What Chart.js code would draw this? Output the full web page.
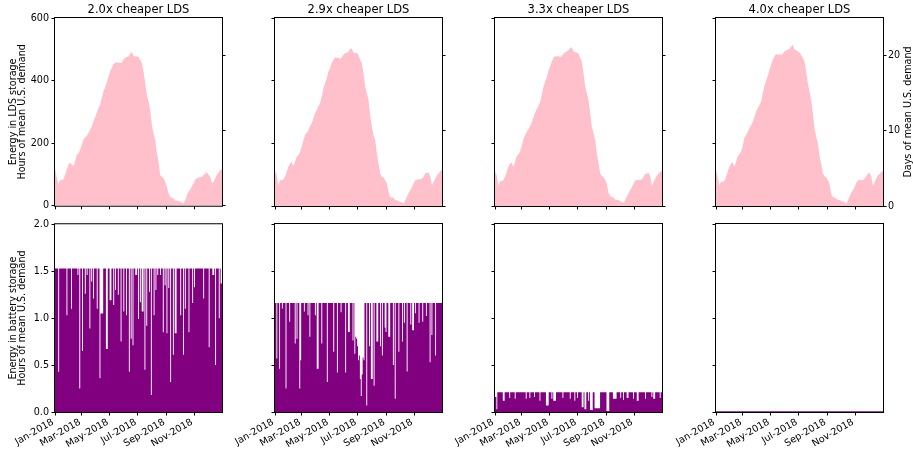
<!DOCTYPE html>
<html>
<head>
<meta charset="utf-8">
<script src="https://cdn.jsdelivr.net/npm/chart.js@4"></script>
<style>
  html, body { margin: 0; padding: 0; background: #fff; }
  #fig { position: relative; width: 913px; height: 455px; overflow: hidden; background: #fff; }
  #fig canvas { position: absolute; }
</style>
</head>
<body>
<div id="fig"></div>
<script>
// Scenario titles, one per column
const scenarios = ['2.0x cheaper LDS', '2.9x cheaper LDS', '3.3x cheaper LDS', '4.0x cheaper LDS'];

// Shared x axis: day of year 2018, ticked every second month
const monthTickDays = [0, 59, 120, 181, 243, 304];
const monthTickLabels = ['Jan-2018', 'Mar-2018', 'May-2018', 'Jul-2018', 'Sep-2018', 'Nov-2018'];

// Axis ticks
const hourTicks = [0, 200, 400, 600];
const dayTicks = [0, 10, 20];
const batteryTicks = [0, 0.5, 1.0, 1.5, 2.0];

// Energy held in long-duration storage (hours of mean U.S. demand), samples spread evenly over the year
const ldsHours20 = [
  120, 93, 69, 82, 82, 84, 98, 114, 130, 138,
  132, 127, 141, 162, 168, 178, 194, 210, 219, 223,
  232, 242, 253, 269, 283, 296, 312, 322, 344, 365,
  379, 394, 413, 429, 440, 453, 456, 459, 456, 458,
  456, 467, 472, 475, 477, 486, 491, 479, 477, 477,
  475, 467, 456, 429, 392, 354, 333, 306, 258, 232,
  210, 168, 141, 98, 93, 88, 77, 61, 40, 27,
  26, 23, 16, 16, 15, 13, 10, 7, 18, 34,
  45, 52, 63, 72, 84, 88, 90, 91, 93, 98,
  104, 106, 98, 93, 72, 77, 88, 101, 106, 114,
  116
];
const ldsHours29 = [
  114, 98, 66, 82, 82, 84, 93, 109, 125, 136,
  141, 127, 141, 157, 162, 173, 189, 210, 226, 234,
  242, 255, 264, 280, 296, 306, 319, 328, 349, 376,
  392, 408, 429, 440, 456, 467, 475, 472, 474, 469,
  475, 483, 488, 488, 493, 501, 503, 488, 488, 488,
  483, 467, 456, 424, 381, 360, 338, 290, 253, 226,
  210, 168, 136, 104, 93, 91, 82, 72, 45, 29,
  27, 27, 18, 18, 16, 13, 13, 7, 18, 29,
  42, 50, 61, 72, 82, 84, 85, 85, 88, 93,
  104, 106, 106, 93, 66, 77, 88, 98, 104, 112,
  114
];
const ldsHours33 = [
  109, 98, 66, 79, 79, 82, 93, 109, 125, 136,
  139, 125, 141, 159, 165, 173, 191, 215, 226, 237,
  245, 255, 266, 283, 298, 309, 319, 330, 354, 379,
  397, 411, 432, 445, 461, 472, 479, 477, 479, 475,
  479, 486, 491, 493, 497, 504, 507, 493, 491, 490,
  486, 472, 461, 424, 381, 360, 338, 296, 253, 232,
  210, 168, 136, 104, 95, 93, 82, 70, 42, 31,
  29, 27, 20, 20, 18, 15, 13, 10, 20, 31,
  42, 50, 61, 72, 82, 82, 84, 84, 85, 93,
  102, 104, 106, 93, 64, 77, 88, 98, 104, 109,
  112
];
const ldsHours40 = [
  114, 93, 66, 77, 77, 80, 93, 109, 125, 136,
  139, 125, 141, 159, 165, 173, 191, 219, 226, 237,
  248, 258, 269, 285, 301, 312, 322, 333, 360, 383,
  400, 415, 435, 451, 467, 477, 485, 482, 485, 482,
  486, 493, 497, 499, 501, 508, 515, 499, 497, 493,
  490, 482, 472, 461, 429, 392, 365, 338, 296, 248,
  221, 200, 157, 136, 104, 95, 91, 82, 70, 39,
  29, 27, 23, 20, 18, 16, 14, 13, 7, 18,
  31, 42, 50, 61, 74, 82, 82, 84, 82, 88,
  95, 104, 106, 93, 64, 77, 88, 98, 102, 109,
  112
];

// Energy held in batteries (hours of mean U.S. demand), about every two days
const batteryHours20 = [
  1.53, 1.53, 1.53, 1.53, 0.43, 1.53, 1.53, 1.53, 1.53, 1.53,
  1.53, 1.53, 1.53, 1.03, 1.53, 1.53, 1.53, 1.53, 1.10, 1.53,
  1.53, 1.53, 1.53, 1.53, 1.53, 1.46, 1.53, 0.25, 1.53, 1.53,
  0.65, 1.53, 1.53, 1.26, 1.53, 1.46, 1.53, 1.53, 0.89, 1.53,
  1.39, 1.53, 1.21, 1.53, 1.53, 1.53, 1.10, 1.53, 1.53, 0.36,
  1.05, 1.05, 1.05, 1.53, 1.53, 1.53, 0.67, 0.67, 1.53, 1.53,
  1.19, 1.19, 1.53, 1.53, 1.14, 1.53, 1.30, 1.53, 1.53, 1.25,
  1.53, 1.53, 0.75, 1.53, 1.53, 1.07, 1.53, 1.53, 1.03, 1.53,
  1.53, 0.43, 1.53, 0.78, 1.53, 0.71, 1.53, 1.53, 1.46, 1.46,
  1.53, 0.99, 1.53, 1.17, 1.53, 1.07, 1.07, 1.53, 0.45, 1.53,
  0.92, 1.53, 1.53, 1.28, 1.53, 0.18, 1.53, 1.53, 1.03, 1.53,
  1.30, 1.53, 1.46, 1.53, 1.53, 1.46, 1.53, 1.53, 0.85, 1.53,
  1.35, 1.53, 0.84, 1.53, 1.32, 1.53, 0.32, 1.53, 1.53, 0.61,
  1.53, 0.84, 0.84, 1.53, 1.53, 1.53, 1.53, 1.03, 1.53, 1.53,
  0.61, 1.53, 1.10, 1.53, 1.53, 1.53, 0.85, 1.53, 1.53, 1.53,
  1.16, 1.53, 1.33, 1.53, 1.53, 1.53, 1.53, 1.53, 1.53, 1.53,
  1.53, 1.53, 1.21, 1.53, 1.53, 1.53, 1.53, 1.53, 0.69, 1.53,
  1.53, 1.53, 1.46, 1.46, 1.53, 0.50, 1.53, 1.53, 1.53, 1.00,
  1.53, 1.37, 1.37
];
const batteryHours29 = [
  1.16, 1.16, 0.57, 1.16, 1.16, 0.46, 1.16, 1.16, 1.10, 1.16,
  1.16, 1.16, 0.25, 1.16, 1.16, 1.16, 0.96, 1.16, 1.16, 1.16,
  1.16, 1.16, 0.73, 1.16, 0.78, 1.16, 1.16, 0.25, 0.55, 1.16,
  1.16, 1.16, 1.07, 1.16, 1.16, 1.16, 1.03, 1.16, 0.80, 1.16,
  1.16, 1.16, 1.16, 1.16, 1.03, 1.16, 0.46, 0.46, 1.16, 1.16,
  1.16, 0.73, 1.16, 1.16, 1.16, 1.16, 1.16, 0.32, 1.16, 1.16,
  1.16, 1.16, 1.16, 1.16, 0.64, 1.16, 1.16, 1.16, 0.42, 1.16,
  1.16, 1.16, 1.06, 1.16, 1.16, 1.16, 1.16, 0.42, 1.16, 1.16,
  0.85, 0.85, 1.16, 1.16, 1.16, 0.76, 1.16, 0.62, 0.80, 0.78,
  0.70, 0.55, 0.60, 0.35, 0.17, 0.40, 0.58, 0.55, 1.16, 1.16,
  0.07, 1.16, 1.16, 0.70, 1.16, 0.35, 0.35, 1.16, 0.28, 1.16,
  1.16, 0.75, 0.75, 1.16, 1.16, 0.70, 1.16, 0.60, 1.16, 1.16,
  0.90, 0.85, 1.16, 1.16, 0.80, 0.80, 1.16, 1.16, 1.16, 0.50,
  1.16, 0.14, 1.16, 1.16, 1.16, 0.64, 1.16, 1.16, 1.16, 0.75,
  1.16, 0.95, 1.16, 1.16, 0.43, 1.16, 1.16, 1.16, 0.93, 1.16,
  0.87, 0.87, 1.16, 1.05, 1.16, 1.16, 1.16, 0.95, 1.16, 1.16,
  1.16, 0.96, 1.16, 1.16, 1.16, 1.02, 1.16, 1.16, 1.16, 0.53,
  1.16, 0.82, 1.16, 1.16, 1.16, 0.60, 1.16, 1.16, 1.16, 1.16,
  1.16, 1.16, 1.16
];
const batteryHours33 = [
  0.16, 0.16, 0.03, 0.21, 0.21, 0.21, 0.21, 0.21, 0.21, 0.12,
  0.12, 0.21, 0.21, 0.21, 0.21, 0.21, 0.15, 0.21, 0.21, 0.21,
  0.21, 0.21, 0.14, 0.21, 0.21, 0.21, 0.21, 0.21, 0.21, 0.21,
  0.21, 0.21, 0.21, 0.21, 0.14, 0.21, 0.21, 0.21, 0.15, 0.21,
  0.21, 0.21, 0.21, 0.16, 0.21, 0.21, 0.21, 0.21, 0.21, 0.12,
  0.21, 0.21, 0.21, 0.21, 0.21, 0.21, 0.07, 0.07, 0.07, 0.21,
  0.21, 0.21, 0.14, 0.21, 0.12, 0.12, 0.12, 0.21, 0.21, 0.21,
  0.21, 0.21, 0.21, 0.21, 0.15, 0.21, 0.21, 0.21, 0.21, 0.21,
  0.21, 0.21, 0.14, 0.21, 0.21, 0.21, 0.21, 0.12, 0.21, 0.21,
  0.15, 0.21, 0.21, 0.21, 0.21, 0.05, 0.05, 0.21, 0.03, 0.03,
  0.21, 0.21, 0.12, 0.21, 0.02, 0.02, 0.02, 0.21, 0.21, 0.04,
  0.04, 0.04, 0.04, 0.04, 0.04, 0.21, 0.21, 0.21, 0.21, 0.21,
  0.21, 0.21, 0.01, 0.01, 0.01, 0.21, 0.21, 0.21, 0.21, 0.14,
  0.14, 0.14, 0.14, 0.21, 0.21, 0.21, 0.21, 0.15, 0.21, 0.21,
  0.13, 0.21, 0.21, 0.21, 0.15, 0.15, 0.21, 0.21, 0.21, 0.21,
  0.21, 0.14, 0.21, 0.21, 0.21, 0.12, 0.12, 0.21, 0.21, 0.21,
  0.21, 0.21, 0.21, 0.21, 0.14, 0.21, 0.21, 0.21, 0.21, 0.21,
  0.21, 0.16, 0.21, 0.14, 0.14, 0.21, 0.21, 0.21, 0.21, 0.21,
  0.15, 0.21, 0.21
];
// No battery is built in the cheapest-LDS case: empty all year
const batteryHours40 = [0, 0];

const ldsSeries = [ldsHours20, ldsHours29, ldsHours33, ldsHours40];
const batterySeries = [batteryHours20, batteryHours29, batteryHours33, batteryHours40];

const FONT = "'DejaVu Sans', sans-serif";
Chart.defaults.font.family = FONT;
Chart.defaults.font.size = 9.6;
Chart.defaults.color = '#000';

const plotLefts = [55, 275, 495, 716];
const PLOT_W = 167;
const PLOT_H = 188;
const SIDE = 55;
const fig = document.getElementById('fig');

// Samples are spread evenly from 1 Jan to 31 Dec
function toPoints(values) {
  const step = 365 / (values.length - 1);
  return values.map((v, i) => ({ x: i * step, y: v }));
}

// Closed box around each plot area
const framePlugin = {
  id: 'frame',
  afterDatasetsDraw(chart) {
    const { ctx, chartArea: a } = chart;
    ctx.save();
    ctx.strokeStyle = '#000';
    ctx.lineWidth = 1;
    ctx.strokeRect(a.left - 0.5, a.top - 0.5, a.right - a.left + 1, a.bottom - a.top + 1);
    ctx.restore();
  }
};

// Right-hand axis caption, written bottom-to-top like the left captions
const sideTitlePlugin = {
  id: 'sideTitle',
  afterDraw(chart, args, opts) {
    if (!opts || !opts.text) return;
    const { ctx, chartArea: a } = chart;
    ctx.save();
    ctx.translate(a.right + opts.offset, (a.top + a.bottom) / 2);
    ctx.rotate(-Math.PI / 2);
    ctx.font = '9.6px ' + FONT;
    ctx.fillStyle = '#000';
    ctx.textAlign = 'center';
    ctx.textBaseline = 'middle';
    ctx.fillText(opts.text, 0, 0);
    ctx.restore();
  }
};

function tickMarks() {
  return { display: true, drawOnChartArea: false, drawTicks: true, tickLength: 3.5, color: '#000', lineWidth: 1 };
}

function fixedTicks(list) {
  return (scale) => { scale.ticks = list.map(v => ({ value: v })); };
}

function xAxis(showLabels, height) {
  return {
    type: 'linear', min: 0, max: 365,
    afterBuildTicks: fixedTicks(monthTickDays),
    afterFit: (s) => { s.height = height; },
    grid: tickMarks(),
    border: { display: false },
    ticks: {
      display: showLabels, autoSkip: false, minRotation: 30, maxRotation: 30, padding: 1,
      labelOffset: -2, font: { size: 9.6 }, color: '#000',
      callback: (v, i) => monthTickLabels[i]
    }
  };
}

function makeCanvas(left, top, w, h) {
  const c = document.createElement('canvas');
  c.width = w; c.height = h;
  c.style.left = left + 'px'; c.style.top = top + 'px';
  c.style.width = w + 'px'; c.style.height = h + 'px';
  fig.appendChild(c);
  return c;
}

const common = {
  responsive: false, animation: false, devicePixelRatio: 1, events: [],
  elements: { point: { radius: 0 }, line: { tension: 0 } }
};

// Top row: long-duration storage
scenarios.forEach((name, col) => {
  const w = SIDE + PLOT_W + SIDE, h = 18 + PLOT_H + 8;
  const canvas = makeCanvas(plotLefts[col] - SIDE, 0, w, h);
  new Chart(canvas, {
    type: 'line',
    data: {
      datasets: [{
        data: toPoints(ldsSeries[col]), yAxisID: 'y',
        fill: 'origin', backgroundColor: '#ffc0cb',
        borderColor: 'rgba(0,0,0,0)', borderWidth: 0
      }]
    },
    options: {
      ...common,
      layout: { padding: 0 },
      plugins: {
        legend: { display: false }, tooltip: { enabled: false },
        title: {
          display: true, text: name, color: '#000',
          font: { family: FONT, size: 11.5, weight: 'normal', lineHeight: 1.2 },
          padding: { top: 3, bottom: 1.2 }
        },
        sideTitle: col === 3 ? { text: 'Days of mean U.S. demand', offset: 25.3 } : {}
      },
      scales: {
        x: xAxis(false, 8),
        y: {
          position: 'left', min: 0, max: 600,
          afterBuildTicks: fixedTicks(hourTicks),
          afterFit: (s) => { s.width = SIDE; },
          grid: tickMarks(), border: { display: false },
          ticks: { display: col === 0, padding: 2.5, callback: (v) => String(v) },
          title: {
            display: col === 0, text: ['Energy in LDS storage', 'Hours of mean U.S. demand'],
            font: { size: 9.6, lineHeight: 1.0 }, padding: { top: 8.5, bottom: 0 }, color: '#000'
          }
        },
        yDays: {
          position: 'right', min: 0, max: 25,
          afterBuildTicks: fixedTicks(dayTicks),
          afterFit: (s) => { s.width = SIDE; },
          grid: tickMarks(), border: { display: false },
          ticks: { display: col === 3, padding: 1.5, callback: (v) => String(v) }
        }
      }
    },
    plugins: [framePlugin, sideTitlePlugin]
  });
});

// Bottom row: battery storage
scenarios.forEach((name, col) => {
  const w = SIDE + PLOT_W + 10, h = 8 + PLOT_H + 43;
  const canvas = makeCanvas(plotLefts[col] - SIDE, 216, w, h);
  const empty = col === 3;
  new Chart(canvas, {
    type: 'line',
    data: {
      datasets: [{
        data: toPoints(batterySeries[col]),
        fill: 'origin', backgroundColor: '#800080',
        borderColor: empty ? '#800080' : 'rgba(0,0,0,0)', borderWidth: empty ? 1.5 : 0,
        stepped: 'middle', clip: 2
      }]
    },
    options: {
      ...common,
      layout: { padding: { top: 8, right: 10, left: 0, bottom: 0 } },
      plugins: { legend: { display: false }, tooltip: { enabled: false }, title: { display: false } },
      scales: {
        x: xAxis(true, 43),
        y: {
          position: 'left', min: 0, max: 2,
          afterBuildTicks: fixedTicks(batteryTicks),
          afterFit: (s) => { s.width = SIDE; },
          grid: tickMarks(), border: { display: false },
          ticks: { display: col === 0, padding: 2.5, callback: (v) => v.toFixed(1) },
          title: {
            display: col === 0, text: ['Energy in battery storage', 'Hours of mean U.S. demand'],
            font: { size: 9.6, lineHeight: 1.0 }, padding: { top: 8.5, bottom: 0 }, color: '#000'
          }
        }
      }
    },
    plugins: [framePlugin]
  });
});
</script>
</body>
</html>
